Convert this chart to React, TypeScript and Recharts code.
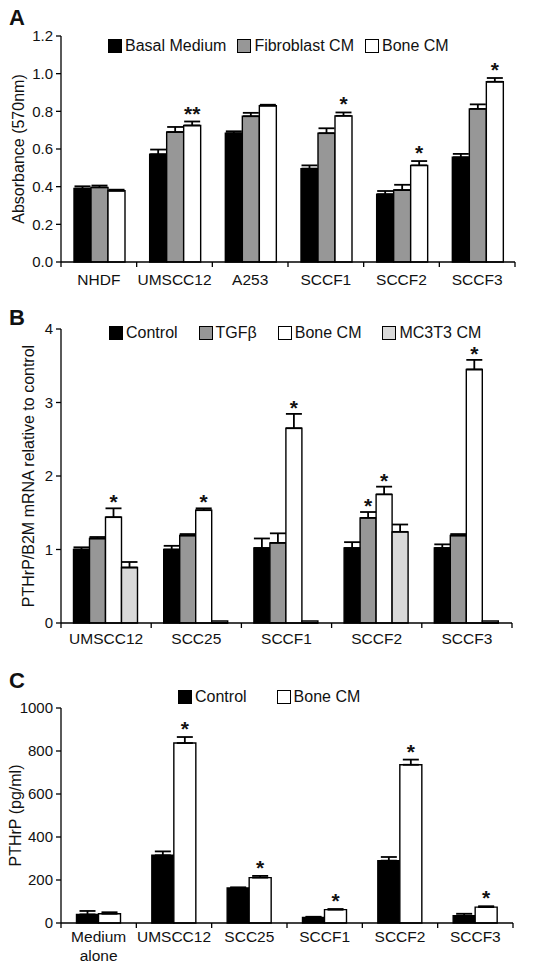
import { BarChart, Bar, XAxis, YAxis, ErrorBar, LabelList, Legend } from 'recharts';

const FONT = '"Liberation Sans", Arial, Helvetica, sans-serif';
const INK = '#111';

// Panel A
const catsA = ['NHDF', 'UMSCC12', 'A253', 'SCCF1', 'SCCF2', 'SCCF3'];
const seriesA = ['Basal Medium', 'Fibroblast CM', 'Bone CM'];
const basalA = [0.39, 0.572, 0.684, 0.496, 0.36, 0.556];
const basalErrA = [0.012, 0.025, 0.01, 0.017, 0.017, 0.018];
const fibroA = [0.396, 0.69, 0.774, 0.684, 0.382, 0.813];
const fibroErrA = [0.01, 0.027, 0.018, 0.026, 0.028, 0.024];
const boneA = [0.378, 0.725, 0.83, 0.776, 0.513, 0.957];
const boneErrA = [0.006, 0.021, 0.005, 0.018, 0.023, 0.02];
const starsA = ['', '**', '', '*', '*', '*'];
const ticksA = [0, 0.2, 0.4, 0.6, 0.8, 1.0, 1.2];

// Panel B
const catsB = ['UMSCC12', 'SCC25', 'SCCF1', 'SCCF2', 'SCCF3'];
const seriesB = ['Control', 'TGFβ', 'Bone CM', 'MC3T3 CM'];
const ctrlB = [1.0, 1.0, 1.02, 1.02, 1.02];
const ctrlErrB = [0.03, 0.05, 0.13, 0.08, 0.05];
const tgfB = [1.15, 1.19, 1.09, 1.43, 1.19];
const tgfErrB = [0.02, 0.02, 0.13, 0.08, 0.02];
const boneB = [1.44, 1.535, 2.65, 1.75, 3.45];
const boneErrB = [0.12, 0.025, 0.195, 0.105, 0.13];
const mc3t3B = [0.755, 0, 0, 1.24, 0];
const mc3t3ErrB = [0.075, 0, 0, 0.1, 0];
const starsTgfB = ['', '', '', '*', ''];
const starsBoneB = ['*', '*', '*', '*', '*'];
const ticksB = [0, 1, 2, 3, 4];

// Panel C
const catsC = ['Medium\nalone', 'UMSCC12', 'SCC25', 'SCCF1', 'SCCF2', 'SCCF3'];
const seriesC = ['Control', 'Bone CM'];
const ctrlC = [40, 315, 163, 26, 290, 34];
const ctrlErrC = [16, 18, 3, 3, 17, 9];
const boneC = [43, 837, 211, 62, 736, 74];
const boneErrC = [7, 28, 8, 3, 24, 4];
const starsC = ['', '*', '*', '*', '*', '*'];
const ticksC = [0, 200, 400, 600, 800, 1000];

const dataA = catsA.map((name, i) => ({
  name,
  basal: basalA[i], basalErr: [0, basalErrA[i]],
  fibro: fibroA[i], fibroErr: [0, fibroErrA[i]],
  bone: boneA[i], boneErr: [0, boneErrA[i]],
  star: starsA[i],
}));

const dataB = catsB.map((name, i) => ({
  name,
  ctrl: ctrlB[i], ctrlErr: [0, ctrlErrB[i]],
  tgf: tgfB[i], tgfErr: [0, tgfErrB[i]],
  bone: boneB[i], boneErr: [0, boneErrB[i]],
  mc: mc3t3B[i], mcErr: [0, mc3t3ErrB[i]],
  starTgf: starsTgfB[i], starBone: starsBoneB[i],
}));

const dataC = catsC.map((name, i) => ({
  name,
  ctrl: ctrlC[i], ctrlErr: [0, ctrlErrC[i]],
  bone: boneC[i], boneErr: [0, boneErrC[i]],
  star: starsC[i],
}));

// x tick: label plus tick marks at category boundaries
const makeCatTick = (labelDy: number) => (props: any) => {
  const { x, y, payload, index, visibleTicksCount, width } = props;
  const half = payload && payload.offset ? payload.offset : width / visibleTicksCount / 2;
  const lines = String(payload.value).split('\n');
  return (
    <g>
      <line x1={x - half} x2={x - half} y1={y} y2={y + 5} stroke="#000" strokeWidth={1.3} />
      {index === visibleTicksCount - 1 && (
        <line x1={x + half} x2={x + half} y1={y} y2={y + 5} stroke="#000" strokeWidth={1.3} />
      )}
      <text x={x} y={y + labelDy} textAnchor="middle" fontSize={15.5} fontFamily={FONT} fill={INK}>
        {lines.map((l, k) => (
          <tspan key={k} x={x} dy={k === 0 ? 0 : 19}>{l}</tspan>
        ))}
      </text>
    </g>
  );
};

// asterisks above the error bar
const makeStar = (vals: number[], errs: number[], dy = -1) => (props: any) => {
  const { value, index } = props;
  if (!value) return null;
  const vb = props.viewBox || props;
  const bx = vb.x, by = vb.y, bw = vb.width, bh = vb.height;
  const v = vals[index];
  const perUnit = v ? bh / v : 0;
  const capY = by - errs[index] * perUnit;
  return (
    <text x={bx + bw / 2} y={capY + dy} textAnchor="middle" fontSize={21} fontWeight={700} fontFamily={FONT} fill={INK}>
      {value}
    </text>
  );
};

const makeLegend = (gap: number, order: string[]) => (props: any) => {
  const payload = [...(props.payload || [])].sort((a: any, b: any) => order.indexOf(a.value) - order.indexOf(b.value));
  return (
    <div style={{ display: 'flex', alignItems: 'center', gap, fontFamily: FONT, fontSize: 16, color: INK, whiteSpace: 'nowrap' }}>
      {payload.map((p: any) => (
        <div key={p.value} style={{ display: 'flex', alignItems: 'center' }}>
          <span style={{ display: 'inline-block', width: 14, height: 14, boxSizing: 'border-box', background: p.color, border: '1.3px solid #000', marginRight: 3 }} />
          <span>{p.value}</span>
        </div>
      ))}
    </div>
  );
};

const tickStyle = { fontSize: 15, fontFamily: FONT, fill: INK };
const titleStyle = { fontSize: 16, fontFamily: FONT, fill: INK };
const errProps = { width: 8, stroke: '#000', strokeWidth: 1.8 };
const axisLine = { stroke: '#000', strokeWidth: 1.3 };
const barStroke = { stroke: '#000', strokeWidth: 1.4 };

const letterStyle = (top: number) => ({
  position: 'absolute' as const, left: 9, top, fontFamily: FONT, fontWeight: 700, fontSize: 22, lineHeight: '22px', color: INK,
});

export default function App() {
  return (
    <div style={{ position: 'absolute', left: 0, top: 0, width: 539, height: 970, background: '#fff', overflow: 'hidden' }}>
      <div style={letterStyle(7.4)}>A</div>
      <div style={letterStyle(307.4)}>B</div>
      <div style={letterStyle(670.4)}>C</div>

      <div style={{ position: 'absolute', left: 0, top: 0 }}>
        <BarChart width={539} height={300} data={dataA} margin={{ top: 36, right: 24, bottom: 0, left: 0 }} barCategoryGap={13} barGap={0}>
          <XAxis dataKey="name" height={38} tickSize={0} tickMargin={0} tickLine={false} axisLine={axisLine} tick={makeCatTick(22.5)} interval={0} />
          <YAxis width={61} domain={[0, 1.2]} ticks={ticksA} tickFormatter={(v: number) => v.toFixed(1)} tickSize={5} tickMargin={3}
            axisLine={axisLine} tickLine={axisLine} tick={tickStyle}
            label={{ value: 'Absorbance (570nm)', angle: -90, position: 'center', dx: -12.5, style: titleStyle }} />
          <Legend verticalAlign="middle" align="center" layout="horizontal" content={makeLegend(11, seriesA)} wrapperStyle={{ top: 37, left: 108, width: 'auto' }} />
          <Bar dataKey="basal" name={seriesA[0]} fill="#000" {...barStroke} isAnimationActive={false}>
            <ErrorBar dataKey="basalErr" {...errProps} />
          </Bar>
          <Bar dataKey="fibro" name={seriesA[1]} fill="#979797" {...barStroke} isAnimationActive={false}>
            <ErrorBar dataKey="fibroErr" {...errProps} />
          </Bar>
          <Bar dataKey="bone" name={seriesA[2]} fill="#fff" {...barStroke} isAnimationActive={false}>
            <ErrorBar dataKey="boneErr" {...errProps} />
            <LabelList dataKey="star" content={makeStar(boneA, boneErrA)} />
          </Bar>
        </BarChart>
      </div>

      <div style={{ position: 'absolute', left: 0, top: 290 }}>
        <BarChart width={539} height={370} data={dataB} margin={{ top: 39, right: 27, bottom: 0, left: 0 }} barCategoryGap={12.5} barGap={0}>
          <XAxis dataKey="name" height={37} tickSize={0} tickMargin={0} tickLine={false} axisLine={axisLine} tick={makeCatTick(20.5)} interval={0} />
          <YAxis width={61} domain={[0, 4]} ticks={ticksB} tickSize={5} tickMargin={3}
            axisLine={axisLine} tickLine={axisLine} tick={tickStyle}
            label={{ value: 'PTHrP/B2M mRNA relative to control', angle: -90, position: 'center', dx: -2.5, style: titleStyle }} />
          <Legend verticalAlign="middle" align="center" layout="horizontal" content={makeLegend(21, seriesB)} wrapperStyle={{ top: 34, left: 109, width: 'auto' }} />
          <Bar dataKey="ctrl" name={seriesB[0]} fill="#000" {...barStroke} isAnimationActive={false}>
            <ErrorBar dataKey="ctrlErr" {...errProps} />
          </Bar>
          <Bar dataKey="tgf" name={seriesB[1]} fill="#979797" {...barStroke} isAnimationActive={false}>
            <ErrorBar dataKey="tgfErr" {...errProps} />
            <LabelList dataKey="starTgf" content={makeStar(tgfB, tgfErrB, 1)} />
          </Bar>
          <Bar dataKey="bone" name={seriesB[2]} fill="#fff" {...barStroke} isAnimationActive={false}>
            <ErrorBar dataKey="boneErr" {...errProps} />
            <LabelList dataKey="starBone" content={makeStar(boneB, boneErrB, 1)} />
          </Bar>
          <Bar dataKey="mc" name={seriesB[3]} fill="#d9d9d9" {...barStroke} minPointSize={2} isAnimationActive={false}>
            <ErrorBar dataKey="mcErr" {...errProps} />
          </Bar>
        </BarChart>
      </div>

      <div style={{ position: 'absolute', left: 0, top: 660 }}>
        <BarChart width={539} height={310} data={dataC} margin={{ top: 48, right: 26, bottom: 0, left: 0 }} barCategoryGap={15.5} barGap={0}>
          <XAxis dataKey="name" height={47} tickSize={0} tickMargin={0} tickLine={false} axisLine={axisLine} tick={makeCatTick(18.5)} interval={0} />
          <YAxis width={61} domain={[0, 1000]} ticks={ticksC} tickSize={5} tickMargin={3}
            axisLine={axisLine} tickLine={axisLine} tick={tickStyle}
            label={{ value: 'PTHrP (pg/ml)', angle: -90, position: 'center', dx: -15, style: titleStyle }} />
          <Legend verticalAlign="middle" align="center" layout="horizontal" content={makeLegend(30, seriesC)} wrapperStyle={{ top: 28, left: 178, width: 'auto' }} />
          <Bar dataKey="ctrl" name={seriesC[0]} fill="#000" {...barStroke} isAnimationActive={false}>
            <ErrorBar dataKey="ctrlErr" {...errProps} />
          </Bar>
          <Bar dataKey="bone" name={seriesC[1]} fill="#fff" {...barStroke} isAnimationActive={false}>
            <ErrorBar dataKey="boneErr" {...errProps} />
            <LabelList dataKey="star" content={makeStar(boneC, boneErrC)} />
          </Bar>
        </BarChart>
      </div>
    </div>
  );
}
